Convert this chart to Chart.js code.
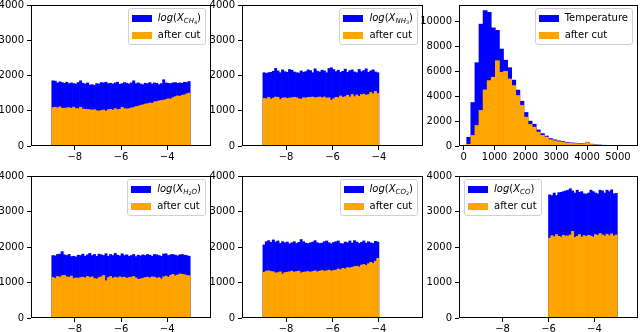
<!DOCTYPE html>
<html>
<head>
<meta charset="utf-8">
<script src="https://cdn.jsdelivr.net/npm/chart.js@4"></script>
<style>
  html, body { margin: 0; padding: 0; background: #fff; }
  body { width: 640px; height: 332px; position: relative; overflow: hidden; font-family: 'DejaVu Sans', sans-serif; }
  canvas { position: absolute; }
  .legend { position: absolute; background: rgba(255,255,255,0.8); border: 1px solid #d0d0d0; border-radius: 3px; padding: 3px 4px 3px 3px; font-size: 10px; line-height: 12px; color: #000; white-space: nowrap; }
  .legend .row { display: flex; align-items: center; height: 12px; }
  .legend .row + .row { margin-top: 5px; }
  .legend .sw { width: 20px; height: 7px; margin-right: 6px; flex: none; }
  .legend sub { font-size: 70%; line-height: 0; vertical-align: -0.3em; }
</style>
</head>
<body>
<script>
// bins (log panels use 0.1 wide bins)
const logBin = 0.1
const ch4Start = -9
const nh3Start = -9
const h2oStart = -9
const co2Start = -9
const coStart = -6
const tempStart = 100
const tempBin = 132.5

const ch4All = [1850, 1840, 1790, 1820, 1800, 1780, 1810, 1770, 1790, 1770,
  1760, 1800, 1850, 1780, 1760, 1790, 1730, 1740, 1720, 1770,
  1760, 1800, 1790, 1810, 1770, 1780, 1760, 1790, 1810, 1750,
  1770, 1800, 1780, 1760, 1790, 1850, 1770, 1790, 1760, 1740,
  1780, 1770, 1800, 1760, 1790, 1780, 1740, 1770, 1880, 1790,
  1780, 1770, 1790, 1800, 1780, 1790, 1780, 1810, 1800, 1830]
const ch4Cut = [1090, 1100, 1080, 1110, 1070, 1070, 1080, 1090, 1070, 1100,
  1060, 1060, 1100, 1050, 1040, 1040, 1030, 1020, 1030, 1000,
  990, 1010, 1020, 990, 1030, 1040, 1020, 1060, 1030, 1040,
  1100, 1060, 1050, 1060, 1080, 1090, 1120, 1130, 1150, 1170,
  1190, 1200, 1220, 1210, 1250, 1260, 1280, 1290, 1300, 1320,
  1340, 1330, 1370, 1400, 1420, 1410, 1440, 1450, 1480, 1500]

const nh3All = [2080, 2060, 2080, 2090, 2120, 2200, 2130, 2080, 2160, 2110,
  2090, 2170, 2150, 2100, 2080, 2070, 2130, 2090, 2110, 2160,
  2140, 2080, 2190, 2120, 2100, 2150, 2130, 2080, 2200, 2220,
  2170, 2110, 2150, 2090, 2120, 2180, 2090, 2140, 2160, 2100,
  2080, 2170, 2110, 2140, 2190, 2090, 2130, 2160, 2100, 2080]
const nh3Cut = [1350, 1340, 1380, 1330, 1360, 1390, 1380, 1320, 1360, 1370,
  1350, 1360, 1370, 1380, 1370, 1340, 1330, 1370, 1360, 1380,
  1380, 1390, 1370, 1380, 1390, 1370, 1390, 1360, 1370, 1300,
  1340, 1380, 1370, 1420, 1380, 1400, 1440, 1390, 1460, 1400,
  1450, 1410, 1460, 1470, 1440, 1460, 1520, 1480, 1550, 1490]

const tempAll = [700, 3500, 6700, 9800, 10900, 10750, 9500, 9300, 7800, 6900,
  6300, 5300, 4500, 3600, 2700, 2000, 1750, 1300, 1000, 800,
  600, 500, 420, 360, 300, 260, 230, 200, 200, 300,
  150, 100, 80, 60, 40, 30, 25, 60, 15, 10]
const tempCut = [140, 850, 1650, 2860, 4510, 5260, 5530, 6860, 5930, 6000,
  5390, 4860, 4060, 3260, 2320, 1740, 1520, 1120, 856, 720,
  510, 420, 350, 300, 250, 220, 200, 170, 180, 280,
  120, 80, 60, 40, 30, 20, 15, 10, 5, 5]

const h2oAll = [1760, 1750, 1790, 1800, 1870, 1780, 1760, 1790, 1730, 1740,
  1720, 1770, 1760, 1800, 1740, 1780, 1820, 1760, 1790, 1740,
  1800, 1780, 1760, 1810, 1740, 1790, 1760, 1820, 1770, 1750,
  1810, 1760, 1780, 1740, 1760, 1790, 1730, 1770, 1750, 1780,
  1760, 1790, 1770, 1740, 1790, 1780, 1760, 1740, 1800, 1810,
  1760, 1780, 1790, 1770, 1750, 1780, 1790, 1770, 1760, 1740]
const h2oCut = [1140, 1120, 1170, 1150, 1190, 1200, 1160, 1150, 1180, 1110,
  1130, 1120, 1140, 1150, 1130, 1170, 1140, 1160, 1110, 1100,
  1140, 1160, 1200, 1050, 1140, 1170, 1120, 1150, 1130, 1160,
  1140, 1150, 1120, 1140, 1150, 1170, 1130, 1090, 1100, 1120,
  1140, 1150, 1130, 1160, 1150, 1120, 1140, 1100, 1160, 1180,
  1150, 1200, 1230, 1190, 1210, 1240, 1230, 1220, 1200, 1190]

const co2All = [2060, 2150, 2180, 2130, 2200, 2140, 2170, 2100, 2150, 2120,
  2140, 2090, 2120, 2150, 2100, 2130, 2210, 2150, 2110, 2100,
  2120, 2140, 2180, 2120, 2100, 2110, 2150, 2170, 2120, 2090,
  2130, 2150, 2170, 2100, 2090, 2140, 2120, 2170, 2110, 2180,
  2140, 2100, 2130, 2170, 2110, 2150, 2120, 2100, 2160, 2140]
const co2Cut = [1290, 1320, 1330, 1310, 1300, 1270, 1280, 1300, 1240, 1280,
  1290, 1300, 1320, 1290, 1310, 1320, 1270, 1290, 1300, 1310,
  1290, 1310, 1330, 1300, 1320, 1340, 1320, 1330, 1350, 1320,
  1340, 1350, 1380, 1360, 1400, 1380, 1420, 1410, 1430, 1450,
  1460, 1440, 1490, 1510, 1480, 1530, 1570, 1540, 1600, 1680]

const coAll = [3470, 3450, 3520, 3450, 3530, 3540, 3560, 3580, 3600, 3640,
  3580, 3520, 3600, 3540, 3560, 3500, 3490, 3520, 3600, 3560,
  3520, 3500, 3600, 3580, 3520, 3600, 3560, 3610, 3500, 3510]
const coCut = [2250, 2320, 2290, 2350, 2300, 2280, 2330, 2310, 2310, 2340,
  2440, 2270, 2300, 2350, 2280, 2320, 2300, 2330, 2310, 2280,
  2350, 2330, 2380, 2340, 2310, 2360, 2320, 2370, 2310, 2340]

const logTicks = [-8, -6, -4]
const countTicks = [0, 1000, 2000, 3000, 4000]
const tempXTicks = [0, 1000, 2000, 3000, 4000, 5000]
const tempYTicks = [0, 2000, 4000, 6000, 8000, 10000]

const cutLabel = 'after cut'
const names = [
  '<i>log</i>(<i>X</i><sub><i>CH</i><sub>4</sub></sub>)',
  '<i>log</i>(<i>X</i><sub><i>NH</i><sub>3</sub></sub>)',
  'Temperature',
  '<i>log</i>(<i>X</i><sub><i>H</i><sub>2</sub><i>O</i></sub>)',
  '<i>log</i>(<i>X</i><sub><i>CO</i><sub>2</sub></sub>)',
  '<i>log</i>(<i>X</i><sub><i>CO</i></sub>)',
]

const BLUE = '#0000ff'
const ORANGE = '#ffa500'

Chart.defaults.font.family = "'DejaVu Sans', sans-serif"
Chart.defaults.font.size = 10
Chart.defaults.color = '#000'

const framePlugin = {
  id: 'frame',
  afterDatasetsDraw(chart) {
    const { ctx, chartArea: a } = chart
    ctx.save()
    ctx.strokeStyle = '#000'
    ctx.lineWidth = 1
    ctx.strokeRect(a.left + 0.5, a.top + 0.5, a.right - a.left - 1, a.bottom - a.top - 1)
    ctx.restore()
  },
}

function toPoints(values, start, width) {
  return values.map((v, i) => ({ x: start + width * (i + 0.5), y: v }))
}

const fmt = (v) => String(v).replace('-', '\u2212')

function axis(ticks, min, max, size, isX) {
  return {
    type: 'linear',
    min,
    max,
    offset: false,
    afterBuildTicks: (s) => { s.ticks = ticks.map((value) => ({ value })) },
    afterFit: (s) => { if (isX) s.height = size; else s.width = size },
    border: { display: false },
    grid: { offset: false, drawOnChartArea: false, drawTicks: true, tickLength: 4, tickColor: '#000', tickWidth: 1 },
    ticks: { padding: isX ? 1 : 3, maxRotation: 0, autoSkip: false, callback: fmt, color: '#000' },
  }
}

function drawPanel(p) {
  const pad = { left: 45, top: 8, right: 6, bottom: 22 }
  const [l, t, r, b] = p.box
  const w = r - l + pad.left + pad.right
  const h = b - t + pad.top + pad.bottom
  const cv = document.createElement('canvas')
  cv.width = w
  cv.height = h
  cv.style.left = l - pad.left + 'px'
  cv.style.top = t - pad.top + 'px'
  cv.style.width = w + 'px'
  cv.style.height = h + 'px'
  document.body.appendChild(cv)

  new Chart(cv, {
    type: 'bar',
    data: {
      datasets: [
        { label: cutLabel, data: toPoints(p.cut, p.start, p.bin), backgroundColor: ORANGE },
        { label: p.name, data: toPoints(p.all, p.start, p.bin), backgroundColor: BLUE },
      ],
    },
    options: {
      responsive: false,
      animation: false,
      layout: { padding: { left: 0, top: pad.top, right: pad.right, bottom: 0 } },
      datasets: { bar: { grouped: false, barPercentage: 1, categoryPercentage: 1, borderWidth: 0 } },
      plugins: { legend: { display: false }, tooltip: { enabled: false } },
      scales: {
        x: axis(p.xTicks, p.xMin, p.xMax, pad.bottom, true),
        y: axis(p.yTicks, 0, p.yMax, pad.left, false),
      },
    },
    plugins: [framePlugin],
  })

  // matplotlib style legend box inside the axes
  const lg = document.createElement('div')
  lg.className = 'legend'
  lg.innerHTML =
    `<div class="row"><span class="sw" style="background:${BLUE}"></span><span>${p.name}</span></div>` +
    `<div class="row"><span class="sw" style="background:${ORANGE}"></span><span>${cutLabel}</span></div>`
  lg.style.top = t + 4 + 'px'
  if (p.legendLeft) lg.style.left = l + 5 + 'px'
  else lg.style.right = 640 - (r - 5) + 'px'
  document.body.appendChild(lg)
}

const logRange = { xMin: -9.9, xMax: -2.1, xTicks: logTicks, yMax: 4000, yTicks: countTicks, bin: logBin }

;[
  { ...logRange, name: names[0], all: ch4All, cut: ch4Cut, start: ch4Start, box: [31, 4, 211, 146] },
  { ...logRange, name: names[1], all: nh3All, cut: nh3Cut, start: nh3Start, box: [242, 4, 423, 146] },
  { name: names[2], all: tempAll, cut: tempCut, start: tempStart, bin: tempBin, box: [459, 4, 638, 146],
    xMin: -150, xMax: 5650, xTicks: tempXTicks, yMax: 11340, yTicks: tempYTicks },
  { ...logRange, name: names[3], all: h2oAll, cut: h2oCut, start: h2oStart, box: [31, 175, 211, 318] },
  { ...logRange, name: names[4], all: co2All, cut: co2Cut, start: co2Start, box: [242, 175, 423, 318] },
  { ...logRange, name: names[5], all: coAll, cut: coCut, start: coStart, box: [459, 175, 638, 318], legendLeft: true },
].forEach(drawPanel)
</script>
</body>
</html>
